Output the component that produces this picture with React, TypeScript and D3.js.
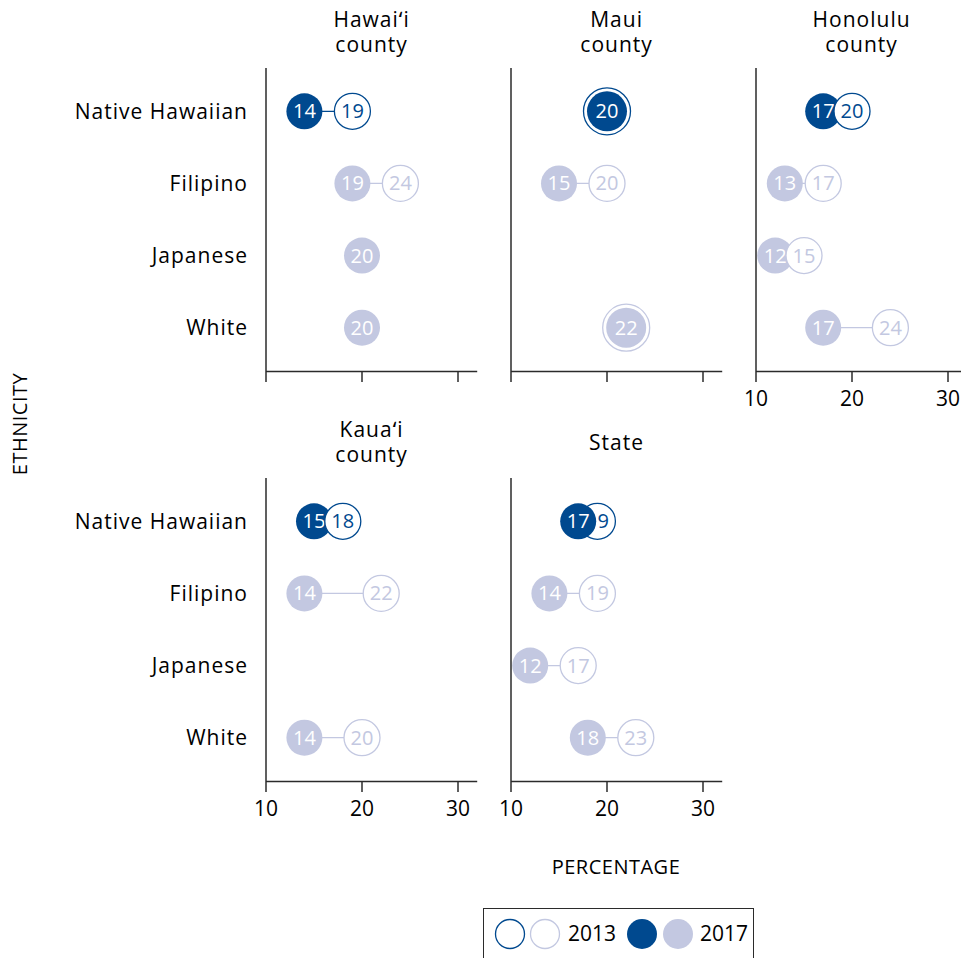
import React from "react";
import * as d3 from "d3";

const categories = ["Native Hawaiian", "Filipino", "Japanese", "White"];
const panelTitles = [["Hawaiʻi", "county"], ["Maui", "county"], ["Honolulu", "county"], ["Kauaʻi", "county"], ["State"]];
const values2013: (number | null)[][] = [
  [19, 24, null, null],
  [20, 20, null, 22],
  [20, 17, 15, 24],
  [18, 22, null, 20],
  [19, 19, 17, 23],
];
const values2017: (number | null)[][] = [
  [14, 19, 20, 20],
  [20, 15, null, 22],
  [17, 13, 12, 17],
  [15, 14, null, 14],
  [17, 14, 12, 18],
];
const tickValues = [10, 20, 30];
const tickLabelPanels = [2, 3, 4];
const filledOnTopPanels = [4];
const legendYears = ["2013", "2017"];

const DARK = "#00498f";
const LIGHT = "#c3c8e1";
const AXIS = "#2b2b2b";
const FONT = "'Open Sans', 'Noto Sans', sans-serif";

export default function App() {
  const W = 961, H = 958;
  const colX = [266, 511, 756];
  const rowY = [68, 478];
  const pw = 211.2, ph = 303;
  const x = d3.scaleLinear().domain([10, 32]).range([0, pw]);
  const y = d3.scalePoint<string>().domain(categories).range([0, ph]).padding(0.6);
  const R = 18;
  const fs = 20;
  const wfs = 21;
  const ls = 1;

  const panels = panelTitles.map((title, p) => {
    const px = colX[p % 3];
    const py = rowY[Math.floor(p / 3)];
    const showLabels = tickLabelPanels.includes(p);
    const filledTop = filledOnTopPanels.includes(p);
    return (
      <g key={p} transform={`translate(${px},${py})`}>
        <text x={pw / 2} y={title.length === 2 ? -41 : -28.5} textAnchor="middle" fontSize={wfs} letterSpacing={ls}>
          {title.map((t, k) => (
            <tspan key={k} x={pw / 2} dy={k === 0 ? 0 : 25}>{t}</tspan>
          ))}
        </text>
        <line x1={0} x2={0} y1={0} y2={ph} stroke={AXIS} strokeWidth={1.5} />
        <line x1={0} x2={pw} y1={ph + 0.5} y2={ph + 0.5} stroke={AXIS} strokeWidth={1.5} />
        {tickValues.map((t) => (
          <g key={t} transform={`translate(${x(t)},${ph})`}>
            <line y1={0} y2={11} stroke={AXIS} strokeWidth={1.5} />
            {showLabels && (
              <text y={35} textAnchor="middle" fontSize={wfs}>{t}</text>
            )}
          </g>
        ))}
        {categories.map((c, i) => {
          const v13 = values2013[p][i];
          const v17 = values2017[p][i];
          const cy = y(c)!;
          const col = i === 0 ? DARK : LIGHT;
          const equal = v13 != null && v17 != null && v13 === v17;
          const hollow = v13 != null ? (
            <g key="h">
              <circle cx={x(v13)} cy={cy} r={equal ? R + 5.5 : R} fill="#fff" stroke={col} strokeWidth={1.3} />
              {!equal && (
                <text x={x(v13)} y={cy} dy="0.35em" textAnchor="middle" fontSize={fs} fill={col}>{v13}</text>
              )}
            </g>
          ) : null;
          const filled = v17 != null ? (
            <g key="f">
              <circle cx={x(v17)} cy={cy} r={equal ? R + 2 : R} fill={col} />
              <text x={x(v17)} y={cy} dy="0.35em" textAnchor="middle" fontSize={fs} fill="#fff">{v17}</text>
            </g>
          ) : null;
          const ordered = equal || filledTop ? [hollow, filled] : [filled, hollow];
          return (
            <g key={c}>
              {(p === 0 || p === 3) && (
                <text x={-18} y={cy} dy="0.35em" textAnchor="end" fontSize={wfs} letterSpacing={ls} fill="#000">{c}</text>
              )}
              {v13 != null && v17 != null && !equal && (
                <line x1={x(v17)} x2={x(v13)} y1={cy} y2={cy} stroke={col} strokeWidth={1.2} />
              )}
              {ordered.filter((d) => d)}
            </g>
          );
        })}
      </g>
    );
  });

  return (
    <svg width={W} height={H} style={{ position: "absolute", left: 0, top: 0 }} fontFamily={FONT}>
      <rect width={W} height={H} fill="#fff" />
      {panels}
      <text x={616} y={874} textAnchor="middle" fontSize={fs} letterSpacing={0.5}>PERCENTAGE</text>
      <text transform={`translate(27,424) rotate(-90)`} textAnchor="middle" fontSize={fs} letterSpacing={0.5}>ETHNICITY</text>
      <g>
        <rect x={483.5} y={908.5} width={270} height={60} fill="#fff" stroke={AXIS} strokeWidth={1} />
        <circle cx={510} cy={934} r={14.5} fill="#fff" stroke={DARK} strokeWidth={1.3} />
        <circle cx={545} cy={934} r={14.5} fill="#fff" stroke={LIGHT} strokeWidth={1.3} />
        <text x={568} y={934} dy="0.35em" fontSize={wfs}>{legendYears[0]}</text>
        <circle cx={642} cy={934} r={15} fill={DARK} />
        <circle cx={678} cy={934} r={15} fill={LIGHT} />
        <text x={700} y={934} dy="0.35em" fontSize={wfs}>{legendYears[1]}</text>
      </g>
    </svg>
  );
}
